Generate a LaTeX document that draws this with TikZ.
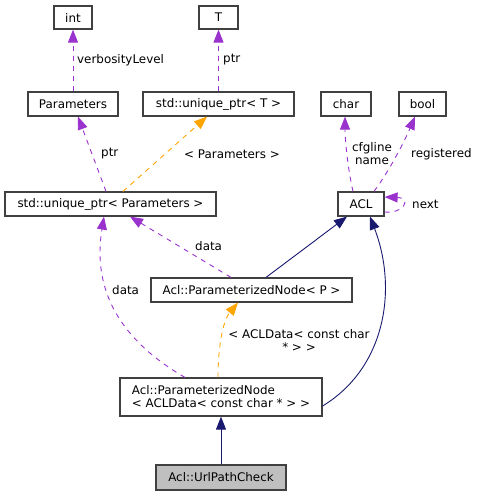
\documentclass[tikz,border=0pt]{standalone}
\usepackage{fontspec}
\setmainfont{DejaVu Sans}
\usetikzlibrary{arrows.meta}
\definecolor{edgepurple}{HTML}{9A32CD}
\definecolor{edgeorange}{HTML}{FFA500}
\definecolor{edgenavy}{HTML}{191970}
\definecolor{boxline}{HTML}{404040}
\definecolor{boxgray}{HTML}{BFBFBF}
\begin{document}
\begin{tikzpicture}[x=1pt,y=-1pt,
  font=\fontsize{11.9}{13}\selectfont,
  box/.style={draw=boxline, line width=1.2pt, fill=white, inner sep=0pt, minimum height=24pt},
  lbl/.style={inner sep=0pt, align=center},
  tip/.style={-{Triangle[length=13pt,width=10pt]}},
  usage/.style={tip, edgepurple, line width=0.9pt, dash pattern=on 5pt off 5pt},
  tmpl/.style={tip, edgeorange, line width=0.9pt, dash pattern=on 5pt off 5pt},
  inherit/.style={tip, edgenavy, line width=0.9pt}]
\useasboundingbox (0,0) rectangle (477,497);
% nodes
\node[box, minimum width=38pt, minimum height=23pt] (int) at (73,17.5) {int};
\node[box, minimum width=39pt, minimum height=23pt] (T) at (218.5,17.5) {T};
\node[box, minimum width=90pt] (params) at (73,104) {Parameters};
\node[box, minimum width=151pt] (uniqT) at (218.5,104) {std::unique\_ptr< T >};
\node[box, minimum width=50pt] (char) at (346,104) {char};
\node[box, minimum width=47pt] (bool) at (422.5,104) {bool};
\node[box, minimum width=211pt] (usp) at (110.5,204) {std::unique\_ptr< Parameters >};
\node[box, minimum width=46pt] (acl) at (361,204) {ACL};
\node[box, minimum width=201pt] (pnp) at (251.5,290) {Acl::ParameterizedNode< P >};
\node[box, minimum width=202pt, minimum height=38pt, align=left] (pna) at (221,397) {Acl::ParameterizedNode\\< ACLData< const char * > >};
\node[box, fill=boxgray, minimum width=130pt, minimum height=25pt] (url) at (221,477.5) {Acl::UrlPathCheck};
% edges
\draw[usage] (params.north) -- (int.south);
\node[lbl, anchor=west] (l1) at (77,60) {verbosityLevel};
\draw[usage] (uniqT.north) -- (T.south);
\node[lbl, anchor=west] (l2) at (223,60) {ptr};
\draw[usage] ([xshift=-4.5pt]usp.north) -- ([xshift=5pt]params.south);
\node[lbl, anchor=west] (l3) at (101,154) {ptr};
\draw[tmpl] ([xshift=12.5pt]usp.north) -- ([xshift=-11.5pt]uniqT.south);
\node[lbl, anchor=west] (l4) at (184,154) {< Parameters >};
\draw[usage] ([xshift=-8pt]acl.north) .. controls (348,170) and (345,140) .. ([xshift=-1pt]char.south);
\node[lbl] (l5) at (372,154) {cfgline\\name};
\draw[usage] ([xshift=13pt]acl.north) .. controls (390,170) and (405,140) .. ([xshift=-7.5pt]bool.south);
\node[lbl, anchor=west] (l6) at (411,154) {registered};
\draw[usage] ([yshift=-8pt]acl.east) .. controls (404,214) and (412,198) .. ([yshift=7pt]acl.east);
\node[lbl, anchor=west] (l7) at (412,204) {next};
\draw[inherit] ([xshift=14.5pt]pnp.north) -- ([xshift=-14pt]acl.south);
\draw[usage] ([xshift=-20.5pt]pnp.north) -- ([xshift=19.5pt]usp.south);
\node[lbl, anchor=west] (l8) at (195,246) {data};
\draw[usage] ([xshift=-36pt]pna.north) .. controls (120,340) and (92,290) .. ([xshift=-6.5pt]usp.south);
\node[lbl, anchor=west] (l9) at (112,290) {data};
\draw[tmpl] ([xshift=-3pt]pna.north) .. controls (218,350) and (222,322) .. ([xshift=-13.5pt]pnp.south);
\node[lbl] (l10) at (299,340) {< ACLData< const char\\* > >};
\draw[inherit] ([yshift=-9pt]pna.east) .. controls (385,368) and (398,290) .. ([xshift=9pt]acl.south);
\draw[inherit] (url.north) -- (pna.south);
\end{tikzpicture}
\end{document}
